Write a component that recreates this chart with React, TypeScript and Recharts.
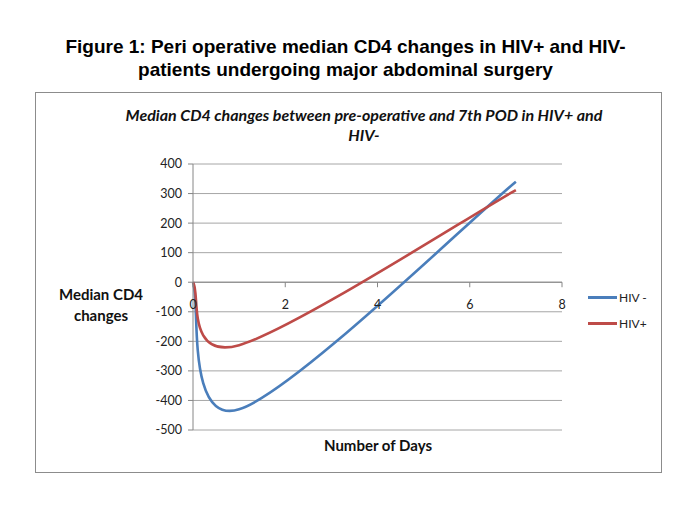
import React from 'react'
import { LineChart, Line, XAxis, YAxis, CartesianGrid, ReferenceLine, ReferenceDot } from 'recharts'

// days after surgery, median CD4 change
const days = [0, 1, 7]
const hivNeg = [0, -430, 340]
const hivPos = [0, -213, 312]
const xTicks = [0, 2, 4, 6, 8]
const yTicks = [-500, -400, -300, -200, -100, 0, 100, 200, 300, 400]
const seriesNames = ['HIV -', 'HIV+']
const colors = ['#4A7EBB', '#BE4B48']

const data = days.map((d, i) => ({ day: d, neg: hivNeg[i], pos: hivPos[i] }))

const FONT = 'Lato, "Open Sans", sans-serif'
const AXIS = '#868686'

// Excel-like smoothed line (catmull-rom, 1/6 control arms)
const excelSmooth = (context: any) => {
  let pts: number[][] = []
  return {
    areaStart() {},
    areaEnd() {},
    lineStart() {
      pts = []
    },
    lineEnd() {
      const n = pts.length
      if (!n) return
      context.moveTo(pts[0][0], pts[0][1])
      for (let i = 0; i < n - 1; i++) {
        const p0 = pts[Math.max(i - 1, 0)]
        const p1 = pts[i]
        const p2 = pts[i + 1]
        const p3 = pts[Math.min(i + 2, n - 1)]
        context.bezierCurveTo(
          p1[0] + (p2[0] - p0[0]) / 6,
          p1[1] + (p2[1] - p0[1]) / 6,
          p2[0] - (p3[0] - p1[0]) / 6,
          p2[1] - (p3[1] - p1[1]) / 6,
          p2[0],
          p2[1]
        )
      }
    },
    point(x: number, y: number) {
      pts.push([+x, +y])
    },
  }
}

const XTick = (label: number) => (props: any) => (
  <g>
    <line x1={props.cx} y1={props.cy} x2={props.cx} y2={props.cy + 5} stroke={AXIS} />
    <text x={props.cx} y={props.cy + 27} textAnchor="middle" fontSize={12.5} fill="#222" fontFamily={FONT}>
      {label}
    </text>
  </g>
)

export default function App() {
  return (
    <div style={{ position: 'absolute', left: 0, top: 0, width: 685, height: 513, background: '#fff' }}>
      <div
        style={{
          position: 'absolute',
          left: 3,
          top: 36,
          width: 685,
          textAlign: 'center',
          fontFamily: '"Liberation Sans", Arial, sans-serif',
          fontWeight: 'bold',
          fontSize: 19,
          lineHeight: '22.5px',
          color: '#000',
        }}
      >
        Figure 1: Peri operative median CD4 changes in HIV+ and HIV-
        <br />
        patients undergoing major abdominal surgery
      </div>

      <div
        style={{
          position: 'absolute',
          left: 35,
          top: 92,
          width: 625,
          height: 379,
          border: '1.5px solid #8c8c8c',
        }}
      />

      <div style={{ position: 'absolute', left: 0, top: 0 }}>
        <LineChart width={685} height={513} data={data} margin={{ top: 164, right: 123, bottom: 83, left: 133 }}>
          <CartesianGrid vertical={false} stroke="#a6a6a6" />
          <XAxis dataKey="day" type="number" domain={[0, 8]} ticks={xTicks} hide />
          <YAxis
            type="number"
            domain={[-500, 400]}
            ticks={yTicks}
            width={60}
            tickSize={5}
            tickMargin={6}
            stroke={AXIS}
            tick={{ fill: '#222', fontSize: 12.5, fontFamily: FONT }}
          />
          <ReferenceLine y={0} stroke={AXIS} />
          {xTicks.map((t) => (
            <ReferenceDot key={t} x={t} y={0} r={0} ifOverflow="visible" shape={XTick(t)} />
          ))}
          <Line
            dataKey="neg"
            name={seriesNames[0]}
            type={excelSmooth as any}
            stroke={colors[0]}
            strokeWidth={2.6}
            dot={false}
            activeDot={false}
            isAnimationActive={false}
          />
          <Line
            dataKey="pos"
            name={seriesNames[1]}
            type={excelSmooth as any}
            stroke={colors[1]}
            strokeWidth={2.6}
            dot={false}
            activeDot={false}
            isAnimationActive={false}
          />
        </LineChart>
      </div>

      <div
        style={{
          position: 'absolute',
          left: 43,
          top: 105,
          width: 642,
          textAlign: 'center',
          fontFamily: FONT,
          fontWeight: 'bold',
          fontStyle: 'italic',
          fontSize: 16,
          lineHeight: '20px',
          color: '#111',
        }}
      >
        Median CD4 changes between pre-operative and 7th POD in HIV+ and
        <br />
        HIV-
      </div>

      <div
        style={{
          position: 'absolute',
          left: 41,
          top: 284,
          width: 120,
          textAlign: 'center',
          fontFamily: FONT,
          fontWeight: 'bold',
          fontSize: 15,
          lineHeight: '21px',
          color: '#111',
        }}
      >
        Median CD4
        <br />
        changes
      </div>

      <div
        style={{
          position: 'absolute',
          left: 278,
          top: 434,
          width: 200,
          textAlign: 'center',
          fontFamily: FONT,
          fontWeight: 'bold',
          fontSize: 15,
          lineHeight: '22px',
          color: '#111',
        }}
      >
        Number of Days
      </div>

      {seriesNames.map((name, i) => (
        <div
          key={name}
          style={{
            position: 'absolute',
            left: 588,
            top: 288 + i * 26,
            height: 18,
            display: 'flex',
            alignItems: 'center',
            fontFamily: FONT,
            fontSize: 12,
            color: '#222',
          }}
        >
          <span style={{ display: 'inline-block', width: 29, height: 3, background: colors[i], marginRight: 2 }} />
          {name}
        </div>
      ))}
    </div>
  )
}
